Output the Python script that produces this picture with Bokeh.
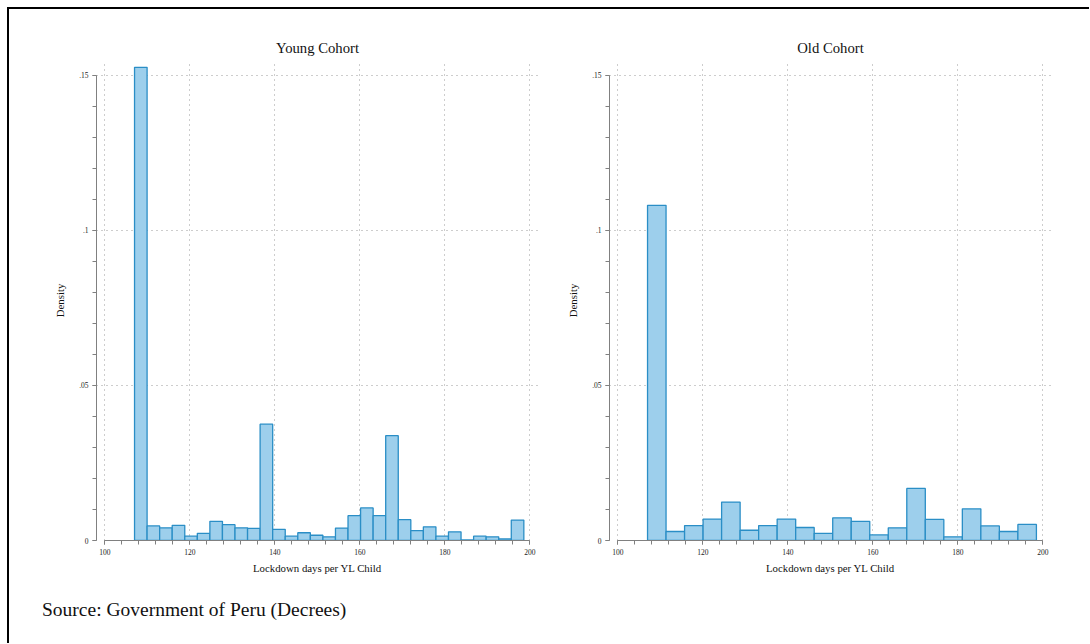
import numpy as np
from bokeh.plotting import figure
from bokeh.models import Range1d, FixedTicker, Div, Spacer
from bokeh.layouts import row, column
from bokeh.embed import file_html
from bokeh.resources import INLINE

# ---- data ----
panel_titles = ["Young Cohort", "Old Cohort"]
young_density = [0.1526, 0.0047, 0.0041, 0.0049, 0.0014, 0.0023, 0.0062, 0.0051,
                 0.0041, 0.0039, 0.0375, 0.0036, 0.0014, 0.0025, 0.0017, 0.0012,
                 0.0040, 0.0080, 0.0105, 0.0080, 0.0338, 0.0067, 0.0032, 0.0044,
                 0.0014, 0.0028, 0.0002, 0.0014, 0.0012, 0.0005, 0.0066]
young_range = [107.0, 198.6]
old_density = [0.1081, 0.0029, 0.0048, 0.0069, 0.0124, 0.0033, 0.0048, 0.0069,
               0.0042, 0.0023, 0.0073, 0.0062, 0.0018, 0.0041, 0.0168, 0.0068,
               0.0012, 0.0102, 0.0047, 0.0029, 0.0052]
old_range = [107.0, 198.5]
x_ticks = [100, 120, 140, 160, 180, 200]
x_minor = list(range(100, 201, 4))
y_ticks = [0, 0.05, 0.1, 0.15]
y_tick_labels = ["0", ".05", ".1", ".15"]
y_minor = [i / 100 for i in range(16)]
x_label = "Lockdown days per YL Child"
y_label = "Density"
source_text = "Source: Government of Peru (Decrees)"

SERIF = "Liberation Serif"
FILL = "#9dcfec"
EDGE = "#2a8ec6"
GRID = "#9a9a9a"
AXIS = "#808080"


def make_panel(title, dens, rng, left, right):
    p = figure(width=left + 442 + right, height=577,
               x_range=Range1d(98.05, 202.05), y_range=Range1d(0, 0.1548),
               output_backend="svg", toolbar_location=None,
               min_border_left=left, min_border_right=right,
               min_border_top=51, min_border_bottom=46)
    p.title.text = title
    p.title.align = "center"
    p.title.text_font = SERIF
    p.title.text_font_size = "14.7px"
    p.title.text_font_style = "normal"
    p.title.text_color = "#111111"
    p.outline_line_color = None

    edges = np.linspace(rng[0], rng[1], len(dens) + 1)
    p.quad(left=edges[:-1], right=edges[1:], bottom=0, top=dens,
           fill_color=FILL, line_color=EDGE, line_width=1.3)

    p.xgrid.ticker = FixedTicker(ticks=x_ticks)
    p.ygrid.ticker = FixedTicker(ticks=y_ticks)
    for g in (p.xgrid, p.ygrid):
        g.grid_line_color = GRID
        g.grid_line_dash = "1 4"
        g.grid_line_width = 1

    p.xaxis.ticker = FixedTicker(ticks=x_ticks, minor_ticks=x_minor)
    p.yaxis.ticker = FixedTicker(ticks=y_ticks, minor_ticks=y_minor)
    p.yaxis.major_label_overrides = {t: l for t, l in zip(y_ticks, y_tick_labels)}
    p.xaxis.major_label_overrides = {t: str(t) for t in x_ticks}
    p.xaxis.bounds = (100, 200)
    p.yaxis.bounds = (0, 0.15)
    p.xaxis.axis_label = x_label
    p.yaxis.axis_label = y_label
    for ax in (p.xaxis, p.yaxis):
        ax.axis_line_color = AXIS
        ax.major_tick_line_color = AXIS
        ax.minor_tick_line_color = AXIS
        ax.major_tick_out = 4
        ax.major_tick_in = 0
        ax.minor_tick_out = 4
        ax.minor_tick_in = 0
        ax.major_label_text_font = SERIF
        ax.major_label_text_font_size = "7.5px"
        ax.major_label_text_color = "#222222"
        ax.major_label_standoff = 4
        ax.axis_label_text_font = SERIF
        ax.axis_label_text_font_size = "10.8px"
        ax.axis_label_text_font_style = "normal"
        ax.axis_label_text_color = "#111111"
    p.yaxis.major_label_orientation = "horizontal"
    p.xaxis.axis_label_standoff = 4
    p.yaxis.axis_label_standoff = 10
    return p


p1 = make_panel(panel_titles[0], young_density, young_range, 87, 10)
p2 = make_panel(panel_titles[1], old_density, old_range, 61, 25)

src = Div(text=source_text, width=600, height=45, margin=(0, 0, 0, 0),
          styles={"font-family": SERIF, "font-size": "19.5px", "color": "#111111",
                  "padding-left": "33px", "padding-top": "10px",
                  "box-sizing": "border-box"})

top_bar = Div(text="", width=1082, height=2, margin=(0, 0, 0, 0),
              styles={"background-color": "black"})
left_bar = Div(text="", width=2, height=634, margin=(0, 0, 0, 0),
               styles={"background-color": "black"})

content = column(row(p1, p2), src)
framed = column(top_bar, row(left_bar, content))
layout = column(Spacer(height=7), row(Spacer(width=7), framed))

open("out.html", "w").write(file_html(layout, INLINE))
